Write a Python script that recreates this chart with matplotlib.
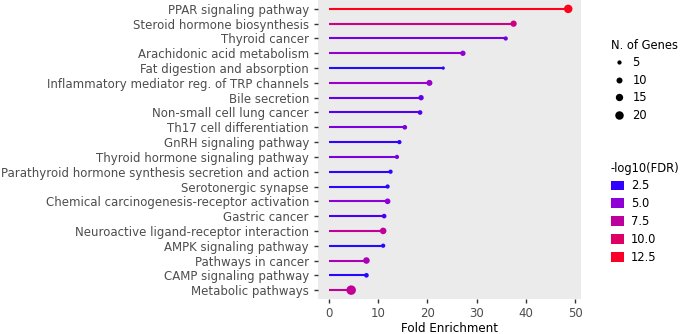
import numpy as np
import matplotlib.pyplot as plt
from matplotlib.colors import LinearSegmentedColormap, Normalize
from matplotlib.lines import Line2D
from matplotlib.patches import Patch

pathways = ['PPAR signaling pathway', 'Steroid hormone biosynthesis', 'Thyroid cancer',
            'Arachidonic acid metabolism', 'Fat digestion and absorption',
            'Inflammatory mediator reg. of TRP channels', 'Bile secretion',
            'Non-small cell lung cancer', 'Th17 cell differentiation', 'GnRH signaling pathway',
            'Thyroid hormone signaling pathway',
            'Parathyroid hormone synthesis secretion and action', 'Serotonergic synapse',
            'Chemical carcinogenesis-receptor activation', 'Gastric cancer',
            'Neuroactive ligand-receptor interaction', 'AMPK signaling pathway',
            'Pathways in cancer', 'CAMP signaling pathway', 'Metabolic pathways']
fold = [48.6, 37.5, 35.9, 27.2, 23.2, 20.4, 18.7, 18.5, 15.4, 14.3,
        13.8, 12.5, 11.9, 11.9, 11.2, 11.0, 11.0, 7.6, 7.6, 4.5]
genes = [20, 11, 5, 8, 3, 10, 8, 6, 6, 5,
         5, 5, 5, 9, 6, 12, 5, 12, 6, 25]
logfdr = [13.0, 8.5, 4.3, 5.2, 1.8, 5.5, 3.8, 3.5, 4.5, 2.5,
          4.5, 2.2, 2.0, 5.0, 3.2, 7.8, 1.8, 6.5, 2.0, 7.8]
size_breaks = [5, 10, 15, 20]
color_breaks = [2.5, 5.0, 7.5, 10.0, 12.5]

cmap = LinearSegmentedColormap.from_list(
    'fdr', [(0.0, '#1a10ff'), (0.1, '#3300ff'), (0.32, '#9400d3'),
            (0.53, '#c0009a'), (0.75, '#e00060'), (0.96, '#fa0022'), (1.0, '#ff0018')])
norm = Normalize(vmin=1.4, vmax=13.2)


def pt_size(n):
    # marker area (pt^2) proportional to gene count
    d_px = np.sqrt(3.6 * np.asarray(n, dtype=float))
    return (d_px * 0.72) ** 2


fig = plt.figure(figsize=(6.81, 3.34), dpi=100)
ax = fig.add_axes([318 / 681, 1 - 299 / 334, (581 - 318) / 681, 299 / 334])
ax.set_facecolor('#ebebeb')

y = np.arange(len(pathways))[::-1]
cols = cmap(norm(np.array(logfdr)))
for yi, f, c in zip(y, fold, cols):
    ax.plot([0, f], [yi, yi], color=c, lw=1.5, solid_capstyle='butt', zorder=2)
ax.scatter(fold, y, s=pt_size(genes), c=cols, zorder=3, linewidths=0)

ax.set_yticks(y)
ax.set_yticklabels(pathways, fontsize=8.5, color='#4d4d4d')
ax.set_xticks([0, 10, 20, 30, 40, 50])
ax.tick_params(axis='x', labelsize=8.5, labelcolor='#4d4d4d', length=3, width=1, color='#333333', pad=2.5)
ax.tick_params(axis='y', length=3, width=1, color='#333333', pad=3.5)
ax.set_xlim(-2.24, 51.2)
ax.set_ylim(-0.6, 19.6)
for s in ax.spines.values():
    s.set_visible(False)
ax.set_xlabel('Fold Enrichment', fontsize=8.6, labelpad=1.5)

size_handles = [Line2D([], [], marker='o', ls='', color='black', markeredgewidth=0,
                       markersize=np.sqrt(pt_size(b))) for b in size_breaks]
leg1 = fig.legend(size_handles, [str(b) for b in size_breaks], title='N. of Genes',
                  loc='upper left', bbox_to_anchor=(606 / 681, 1 - 34 / 334), frameon=False,
                  fontsize=8.3, title_fontsize=8.3, handlelength=1.4, handletextpad=0.5,
                  labelspacing=0.4, alignment='left', borderaxespad=0)

color_handles = [Patch(facecolor=cmap(norm(b)), edgecolor='none') for b in color_breaks]
leg2 = fig.legend(color_handles, [f'{b:.1f}' for b in color_breaks], title='-log10(FDR)',
                  loc='upper left', bbox_to_anchor=(606 / 681, 1 - 157 / 334), frameon=False,
                  fontsize=8.3, title_fontsize=8.3, handlelength=1.2, handleheight=0.95,
                  handletextpad=0.55, labelspacing=0.42, alignment='left', borderaxespad=0)

plt.savefig('out.png', dpi=100)
